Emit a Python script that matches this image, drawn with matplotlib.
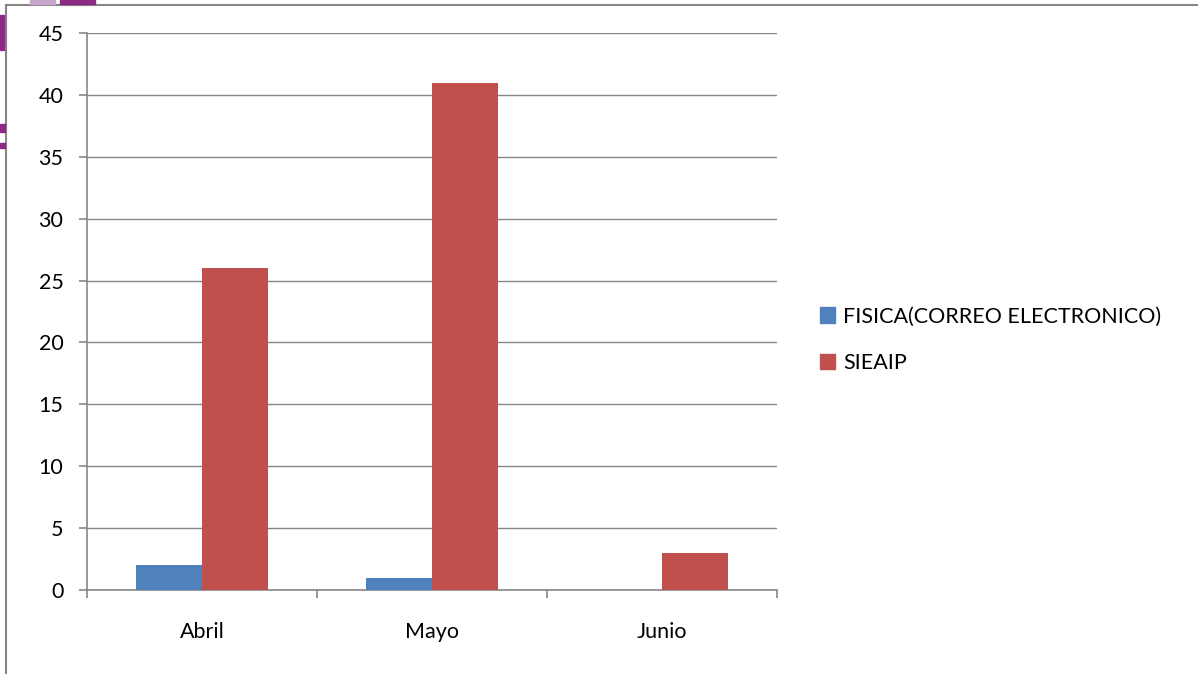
import numpy as np
import matplotlib.pyplot as plt
from matplotlib.patches import Rectangle, Patch

meses = ['Abril', 'Mayo', 'Junio']
fisica = [2, 1, 0]
sieaip = [26, 41, 3]
series = ['FISICA(CORREO ELECTRONICO)', 'SIEAIP']
yticks = [0, 5, 10, 15, 20, 25, 30, 35, 40, 45]

azul = '#4F81BD'
rojo = '#C0504D'
gris = '#868686'

plt.rcParams['font.family'] = ['Lato', 'DejaVu Sans']

fig = plt.figure(figsize=(11.98, 6.74), dpi=100)
ax = fig.add_axes([87/1198, 1-590/674, 690/1198, 557/674])

x = np.arange(len(meses))
w = 1/3.5
ax.bar(x - w/2, fisica, w, color=azul, zorder=3)
ax.bar(x + w/2, sieaip, w, color=rojo, zorder=3)

ax.set_xlim(-0.5, len(meses) - 0.5)
ax.set_ylim(0, 45)
ax.set_yticks(yticks)
ax.yaxis.grid(True, color=gris, lw=1, zorder=0)

# categorias centradas, marcas en los limites
ax.set_xticks(x)
ax.set_xticklabels(meses)
ax.set_xticks(np.arange(len(meses)+1) - 0.5, minor=True)
ax.tick_params(axis='x', which='major', length=0, pad=23, labelsize=15.5)
ax.tick_params(axis='x', which='minor', length=6, width=1.2, color=gris, direction='out')
ax.tick_params(axis='y', length=6, width=1.2, color=gris, pad=11, labelsize=15.5)

for s in ['top', 'right']:
    ax.spines[s].set_visible(False)
for s in ['left', 'bottom']:
    ax.spines[s].set_color(gris)
    ax.spines[s].set_linewidth(1.2)

handles = [Patch(color=azul), Patch(color=rojo)]
fig.legend(handles, series, loc='center left', bbox_to_anchor=(801/1198, 1-340/674),
           frameon=False, fontsize=15.5, handlelength=0.7, handleheight=0.7,
           handletextpad=0.35, labelspacing=1.25)

# marco del grafico
fig.patches.append(Rectangle((6/1198, -0.1), 1.2, 1.1 - 5/674, transform=fig.transFigure,
                             fill=False, edgecolor=gris, lw=1.5))

# restos del logo
logo = '#8B2A85'
fig.patches.append(Rectangle((0, 1-50/674), 4/1198, 35/674, transform=fig.transFigure, color=logo))
fig.patches.append(Rectangle((0, 1-132/674), 5/1198, 8/674, transform=fig.transFigure, color=logo))
fig.patches.append(Rectangle((0, 1-148/674), 5/1198, 5/674, transform=fig.transFigure, color=logo))
fig.patches.append(Rectangle((30/1198, 1-4/674), 25/1198, 4/674, transform=fig.transFigure, color='#C9A6CC'))
fig.patches.append(Rectangle((60/1198, 1-4/674), 35/1198, 4/674, transform=fig.transFigure, color=logo))

fig.savefig('out.png', dpi=100)
